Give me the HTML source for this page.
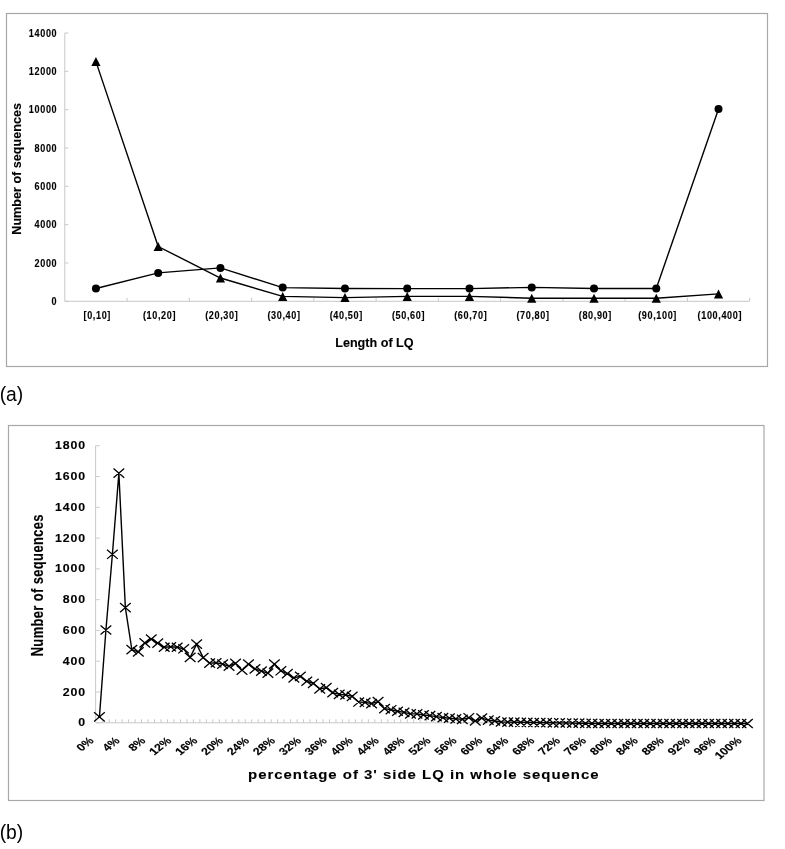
<!DOCTYPE html>
<html><head><meta charset="utf-8"><title>Chart</title>
<style>
html,body{margin:0;padding:0;background:#fff;}
svg{display:block;filter:grayscale(1);}
text{font-family:"Liberation Sans", sans-serif;fill:#000;stroke:#000;stroke-width:0.12px;}
</style></head>
<body>
<svg width="785" height="849" viewBox="0 0 785 849">
<rect width="785" height="849" fill="#fff"/>
<rect x="6.5" y="13.5" width="761" height="353" fill="none" stroke="#a8a8a8" stroke-width="1.2"/>
<line x1="64.8" y1="33" x2="64.8" y2="301.3" stroke="#c8c8c8" stroke-width="1"/>
<line x1="64.8" y1="301.3" x2="749.66" y2="301.3" stroke="#c8c8c8" stroke-width="1"/>
<line x1="64.8" y1="301.30" x2="68.3" y2="301.30" stroke="#c8c8c8" stroke-width="1"/>
<text transform="translate(57.3,305.00) scale(0.88,1)" text-anchor="end" font-size="10.3" font-weight="bold" letter-spacing="0.75">0</text>
<line x1="64.8" y1="262.97" x2="68.3" y2="262.97" stroke="#c8c8c8" stroke-width="1"/>
<text transform="translate(57.3,266.67) scale(0.88,1)" text-anchor="end" font-size="10.3" font-weight="bold" letter-spacing="0.75">2000</text>
<line x1="64.8" y1="224.64" x2="68.3" y2="224.64" stroke="#c8c8c8" stroke-width="1"/>
<text transform="translate(57.3,228.34) scale(0.88,1)" text-anchor="end" font-size="10.3" font-weight="bold" letter-spacing="0.75">4000</text>
<line x1="64.8" y1="186.31" x2="68.3" y2="186.31" stroke="#c8c8c8" stroke-width="1"/>
<text transform="translate(57.3,190.01) scale(0.88,1)" text-anchor="end" font-size="10.3" font-weight="bold" letter-spacing="0.75">6000</text>
<line x1="64.8" y1="147.98" x2="68.3" y2="147.98" stroke="#c8c8c8" stroke-width="1"/>
<text transform="translate(57.3,151.68) scale(0.88,1)" text-anchor="end" font-size="10.3" font-weight="bold" letter-spacing="0.75">8000</text>
<line x1="64.8" y1="109.65" x2="68.3" y2="109.65" stroke="#c8c8c8" stroke-width="1"/>
<text transform="translate(57.3,113.35) scale(0.88,1)" text-anchor="end" font-size="10.3" font-weight="bold" letter-spacing="0.75">10000</text>
<line x1="64.8" y1="71.32" x2="68.3" y2="71.32" stroke="#c8c8c8" stroke-width="1"/>
<text transform="translate(57.3,75.02) scale(0.88,1)" text-anchor="end" font-size="10.3" font-weight="bold" letter-spacing="0.75">12000</text>
<line x1="64.8" y1="32.99" x2="68.3" y2="32.99" stroke="#c8c8c8" stroke-width="1"/>
<text transform="translate(57.3,36.69) scale(0.88,1)" text-anchor="end" font-size="10.3" font-weight="bold" letter-spacing="0.75">14000</text>
<line x1="127.06" y1="297.8" x2="127.06" y2="301.3" stroke="#c8c8c8" stroke-width="1"/>
<line x1="189.32" y1="297.8" x2="189.32" y2="301.3" stroke="#c8c8c8" stroke-width="1"/>
<line x1="251.58" y1="297.8" x2="251.58" y2="301.3" stroke="#c8c8c8" stroke-width="1"/>
<line x1="313.84" y1="297.8" x2="313.84" y2="301.3" stroke="#c8c8c8" stroke-width="1"/>
<line x1="376.10" y1="297.8" x2="376.10" y2="301.3" stroke="#c8c8c8" stroke-width="1"/>
<line x1="438.36" y1="297.8" x2="438.36" y2="301.3" stroke="#c8c8c8" stroke-width="1"/>
<line x1="500.62" y1="297.8" x2="500.62" y2="301.3" stroke="#c8c8c8" stroke-width="1"/>
<line x1="562.88" y1="297.8" x2="562.88" y2="301.3" stroke="#c8c8c8" stroke-width="1"/>
<line x1="625.14" y1="297.8" x2="625.14" y2="301.3" stroke="#c8c8c8" stroke-width="1"/>
<line x1="687.40" y1="297.8" x2="687.40" y2="301.3" stroke="#c8c8c8" stroke-width="1"/>
<line x1="749.66" y1="297.8" x2="749.66" y2="301.3" stroke="#c8c8c8" stroke-width="1"/>
<text transform="translate(97.23,318.5) scale(0.9,1)" text-anchor="middle" font-size="10.1" font-weight="bold" letter-spacing="0.7">[0,10]</text>
<text transform="translate(159.49,318.5) scale(0.9,1)" text-anchor="middle" font-size="10.1" font-weight="bold" letter-spacing="0.7">(10,20]</text>
<text transform="translate(221.75,318.5) scale(0.9,1)" text-anchor="middle" font-size="10.1" font-weight="bold" letter-spacing="0.7">(20,30]</text>
<text transform="translate(284.01,318.5) scale(0.9,1)" text-anchor="middle" font-size="10.1" font-weight="bold" letter-spacing="0.7">(30,40]</text>
<text transform="translate(346.27,318.5) scale(0.9,1)" text-anchor="middle" font-size="10.1" font-weight="bold" letter-spacing="0.7">(40,50]</text>
<text transform="translate(408.53,318.5) scale(0.9,1)" text-anchor="middle" font-size="10.1" font-weight="bold" letter-spacing="0.7">(50,60]</text>
<text transform="translate(470.79,318.5) scale(0.9,1)" text-anchor="middle" font-size="10.1" font-weight="bold" letter-spacing="0.7">(60,70]</text>
<text transform="translate(533.05,318.5) scale(0.9,1)" text-anchor="middle" font-size="10.1" font-weight="bold" letter-spacing="0.7">(70,80]</text>
<text transform="translate(595.31,318.5) scale(0.9,1)" text-anchor="middle" font-size="10.1" font-weight="bold" letter-spacing="0.7">(80,90]</text>
<text transform="translate(657.57,318.5) scale(0.9,1)" text-anchor="middle" font-size="10.1" font-weight="bold" letter-spacing="0.7">(90,100]</text>
<text transform="translate(719.83,318.5) scale(0.9,1)" text-anchor="middle" font-size="10.1" font-weight="bold" letter-spacing="0.7">(100,400]</text>
<text x="374.4" y="346.8" text-anchor="middle" font-size="12.6" font-weight="bold">Length of LQ</text>
<text transform="translate(21,168.9) rotate(-90)" x="0" y="0" text-anchor="middle" font-size="12.6" font-weight="bold">Number of sequences</text>
<polyline points="95.93,288.5 158.19,272.9 220.45,267.9 282.71,287.6 344.97,288.5 407.23,288.6 469.49,288.6 531.75,287.4 594.01,288.5 656.27,288.5 718.53,108.9" fill="none" stroke="#000" stroke-width="1.4"/>
<polyline points="95.93,61.6 158.19,246.5 220.45,278.0 282.71,296.4 344.97,297.6 407.23,296.4 469.49,296.4 531.75,298.2 594.01,298.2 656.27,298.2 718.53,293.9" fill="none" stroke="#000" stroke-width="1.4"/>
<circle cx="95.93" cy="288.5" r="4"/>
<circle cx="158.19" cy="272.9" r="4"/>
<circle cx="220.45" cy="267.9" r="4"/>
<circle cx="282.71" cy="287.6" r="4"/>
<circle cx="344.97" cy="288.5" r="4"/>
<circle cx="407.23" cy="288.6" r="4"/>
<circle cx="469.49" cy="288.6" r="4"/>
<circle cx="531.75" cy="287.4" r="4"/>
<circle cx="594.01" cy="288.5" r="4"/>
<circle cx="656.27" cy="288.5" r="4"/>
<circle cx="718.53" cy="108.9" r="4"/>
<path d="M95.93,57.10L100.53,66.10L91.33,66.10Z"/>
<path d="M158.19,242.00L162.79,251.00L153.59,251.00Z"/>
<path d="M220.45,273.50L225.05,282.50L215.85,282.50Z"/>
<path d="M282.71,291.90L287.31,300.90L278.11,300.90Z"/>
<path d="M344.97,293.10L349.57,302.10L340.37,302.10Z"/>
<path d="M407.23,291.90L411.83,300.90L402.63,300.90Z"/>
<path d="M469.49,291.90L474.09,300.90L464.89,300.90Z"/>
<path d="M531.75,293.70L536.35,302.70L527.15,302.70Z"/>
<path d="M594.01,293.70L598.61,302.70L589.41,302.70Z"/>
<path d="M656.27,293.70L660.87,302.70L651.67,302.70Z"/>
<path d="M718.53,289.40L723.13,298.40L713.93,298.40Z"/>
<text x="-0.3" y="400.6" font-size="19.3" style="stroke:none">(a)</text>
<text x="-0.3" y="838.9" font-size="19.3" style="stroke:none">(b)</text>
<rect x="8.5" y="425.5" width="755.5" height="375" fill="none" stroke="#a8a8a8" stroke-width="1.2"/>
<line x1="95.6" y1="445.6" x2="95.6" y2="722.8" stroke="#c8c8c8" stroke-width="1"/>
<line x1="96.2" y1="722.8" x2="750.68" y2="722.8" stroke="#c8c8c8" stroke-width="1"/>
<line x1="96.2" y1="722.80" x2="99.7" y2="722.80" stroke="#c8c8c8" stroke-width="1"/>
<text transform="translate(86.0,726.30) scale(1.1,1)" text-anchor="end" font-size="11.2" font-weight="bold" letter-spacing="0.8">0</text>
<line x1="96.2" y1="692.02" x2="99.7" y2="692.02" stroke="#c8c8c8" stroke-width="1"/>
<text transform="translate(86.0,695.52) scale(1.1,1)" text-anchor="end" font-size="11.2" font-weight="bold" letter-spacing="0.8">200</text>
<line x1="96.2" y1="661.24" x2="99.7" y2="661.24" stroke="#c8c8c8" stroke-width="1"/>
<text transform="translate(86.0,664.74) scale(1.1,1)" text-anchor="end" font-size="11.2" font-weight="bold" letter-spacing="0.8">400</text>
<line x1="96.2" y1="630.46" x2="99.7" y2="630.46" stroke="#c8c8c8" stroke-width="1"/>
<text transform="translate(86.0,633.96) scale(1.1,1)" text-anchor="end" font-size="11.2" font-weight="bold" letter-spacing="0.8">600</text>
<line x1="96.2" y1="599.68" x2="99.7" y2="599.68" stroke="#c8c8c8" stroke-width="1"/>
<text transform="translate(86.0,603.18) scale(1.1,1)" text-anchor="end" font-size="11.2" font-weight="bold" letter-spacing="0.8">800</text>
<line x1="96.2" y1="568.90" x2="99.7" y2="568.90" stroke="#c8c8c8" stroke-width="1"/>
<text transform="translate(86.0,572.40) scale(1.1,1)" text-anchor="end" font-size="11.2" font-weight="bold" letter-spacing="0.8">1000</text>
<line x1="96.2" y1="538.12" x2="99.7" y2="538.12" stroke="#c8c8c8" stroke-width="1"/>
<text transform="translate(86.0,541.62) scale(1.1,1)" text-anchor="end" font-size="11.2" font-weight="bold" letter-spacing="0.8">1200</text>
<line x1="96.2" y1="507.34" x2="99.7" y2="507.34" stroke="#c8c8c8" stroke-width="1"/>
<text transform="translate(86.0,510.84) scale(1.1,1)" text-anchor="end" font-size="11.2" font-weight="bold" letter-spacing="0.8">1400</text>
<line x1="96.2" y1="476.56" x2="99.7" y2="476.56" stroke="#c8c8c8" stroke-width="1"/>
<text transform="translate(86.0,480.06) scale(1.1,1)" text-anchor="end" font-size="11.2" font-weight="bold" letter-spacing="0.8">1600</text>
<line x1="96.2" y1="445.78" x2="99.7" y2="445.78" stroke="#c8c8c8" stroke-width="1"/>
<text transform="translate(86.0,449.28) scale(1.1,1)" text-anchor="end" font-size="11.2" font-weight="bold" letter-spacing="0.8">1800</text>
<line x1="102.68" y1="719.3" x2="102.68" y2="722.8" stroke="#c8c8c8" stroke-width="1"/>
<line x1="109.16" y1="719.3" x2="109.16" y2="722.8" stroke="#c8c8c8" stroke-width="1"/>
<line x1="115.64" y1="719.3" x2="115.64" y2="722.8" stroke="#c8c8c8" stroke-width="1"/>
<line x1="122.12" y1="719.3" x2="122.12" y2="722.8" stroke="#c8c8c8" stroke-width="1"/>
<line x1="128.60" y1="719.3" x2="128.60" y2="722.8" stroke="#c8c8c8" stroke-width="1"/>
<line x1="135.08" y1="719.3" x2="135.08" y2="722.8" stroke="#c8c8c8" stroke-width="1"/>
<line x1="141.56" y1="719.3" x2="141.56" y2="722.8" stroke="#c8c8c8" stroke-width="1"/>
<line x1="148.04" y1="719.3" x2="148.04" y2="722.8" stroke="#c8c8c8" stroke-width="1"/>
<line x1="154.52" y1="719.3" x2="154.52" y2="722.8" stroke="#c8c8c8" stroke-width="1"/>
<line x1="161.00" y1="719.3" x2="161.00" y2="722.8" stroke="#c8c8c8" stroke-width="1"/>
<line x1="167.48" y1="719.3" x2="167.48" y2="722.8" stroke="#c8c8c8" stroke-width="1"/>
<line x1="173.96" y1="719.3" x2="173.96" y2="722.8" stroke="#c8c8c8" stroke-width="1"/>
<line x1="180.44" y1="719.3" x2="180.44" y2="722.8" stroke="#c8c8c8" stroke-width="1"/>
<line x1="186.92" y1="719.3" x2="186.92" y2="722.8" stroke="#c8c8c8" stroke-width="1"/>
<line x1="193.40" y1="719.3" x2="193.40" y2="722.8" stroke="#c8c8c8" stroke-width="1"/>
<line x1="199.88" y1="719.3" x2="199.88" y2="722.8" stroke="#c8c8c8" stroke-width="1"/>
<line x1="206.36" y1="719.3" x2="206.36" y2="722.8" stroke="#c8c8c8" stroke-width="1"/>
<line x1="212.84" y1="719.3" x2="212.84" y2="722.8" stroke="#c8c8c8" stroke-width="1"/>
<line x1="219.32" y1="719.3" x2="219.32" y2="722.8" stroke="#c8c8c8" stroke-width="1"/>
<line x1="225.80" y1="719.3" x2="225.80" y2="722.8" stroke="#c8c8c8" stroke-width="1"/>
<line x1="232.28" y1="719.3" x2="232.28" y2="722.8" stroke="#c8c8c8" stroke-width="1"/>
<line x1="238.76" y1="719.3" x2="238.76" y2="722.8" stroke="#c8c8c8" stroke-width="1"/>
<line x1="245.24" y1="719.3" x2="245.24" y2="722.8" stroke="#c8c8c8" stroke-width="1"/>
<line x1="251.72" y1="719.3" x2="251.72" y2="722.8" stroke="#c8c8c8" stroke-width="1"/>
<line x1="258.20" y1="719.3" x2="258.20" y2="722.8" stroke="#c8c8c8" stroke-width="1"/>
<line x1="264.68" y1="719.3" x2="264.68" y2="722.8" stroke="#c8c8c8" stroke-width="1"/>
<line x1="271.16" y1="719.3" x2="271.16" y2="722.8" stroke="#c8c8c8" stroke-width="1"/>
<line x1="277.64" y1="719.3" x2="277.64" y2="722.8" stroke="#c8c8c8" stroke-width="1"/>
<line x1="284.12" y1="719.3" x2="284.12" y2="722.8" stroke="#c8c8c8" stroke-width="1"/>
<line x1="290.60" y1="719.3" x2="290.60" y2="722.8" stroke="#c8c8c8" stroke-width="1"/>
<line x1="297.08" y1="719.3" x2="297.08" y2="722.8" stroke="#c8c8c8" stroke-width="1"/>
<line x1="303.56" y1="719.3" x2="303.56" y2="722.8" stroke="#c8c8c8" stroke-width="1"/>
<line x1="310.04" y1="719.3" x2="310.04" y2="722.8" stroke="#c8c8c8" stroke-width="1"/>
<line x1="316.52" y1="719.3" x2="316.52" y2="722.8" stroke="#c8c8c8" stroke-width="1"/>
<line x1="323.00" y1="719.3" x2="323.00" y2="722.8" stroke="#c8c8c8" stroke-width="1"/>
<line x1="329.48" y1="719.3" x2="329.48" y2="722.8" stroke="#c8c8c8" stroke-width="1"/>
<line x1="335.96" y1="719.3" x2="335.96" y2="722.8" stroke="#c8c8c8" stroke-width="1"/>
<line x1="342.44" y1="719.3" x2="342.44" y2="722.8" stroke="#c8c8c8" stroke-width="1"/>
<line x1="348.92" y1="719.3" x2="348.92" y2="722.8" stroke="#c8c8c8" stroke-width="1"/>
<line x1="355.40" y1="719.3" x2="355.40" y2="722.8" stroke="#c8c8c8" stroke-width="1"/>
<line x1="361.88" y1="719.3" x2="361.88" y2="722.8" stroke="#c8c8c8" stroke-width="1"/>
<line x1="368.36" y1="719.3" x2="368.36" y2="722.8" stroke="#c8c8c8" stroke-width="1"/>
<line x1="374.84" y1="719.3" x2="374.84" y2="722.8" stroke="#c8c8c8" stroke-width="1"/>
<line x1="381.32" y1="719.3" x2="381.32" y2="722.8" stroke="#c8c8c8" stroke-width="1"/>
<line x1="387.80" y1="719.3" x2="387.80" y2="722.8" stroke="#c8c8c8" stroke-width="1"/>
<line x1="394.28" y1="719.3" x2="394.28" y2="722.8" stroke="#c8c8c8" stroke-width="1"/>
<line x1="400.76" y1="719.3" x2="400.76" y2="722.8" stroke="#c8c8c8" stroke-width="1"/>
<line x1="407.24" y1="719.3" x2="407.24" y2="722.8" stroke="#c8c8c8" stroke-width="1"/>
<line x1="413.72" y1="719.3" x2="413.72" y2="722.8" stroke="#c8c8c8" stroke-width="1"/>
<line x1="420.20" y1="719.3" x2="420.20" y2="722.8" stroke="#c8c8c8" stroke-width="1"/>
<line x1="426.68" y1="719.3" x2="426.68" y2="722.8" stroke="#c8c8c8" stroke-width="1"/>
<line x1="433.16" y1="719.3" x2="433.16" y2="722.8" stroke="#c8c8c8" stroke-width="1"/>
<line x1="439.64" y1="719.3" x2="439.64" y2="722.8" stroke="#c8c8c8" stroke-width="1"/>
<line x1="446.12" y1="719.3" x2="446.12" y2="722.8" stroke="#c8c8c8" stroke-width="1"/>
<line x1="452.60" y1="719.3" x2="452.60" y2="722.8" stroke="#c8c8c8" stroke-width="1"/>
<line x1="459.08" y1="719.3" x2="459.08" y2="722.8" stroke="#c8c8c8" stroke-width="1"/>
<line x1="465.56" y1="719.3" x2="465.56" y2="722.8" stroke="#c8c8c8" stroke-width="1"/>
<line x1="472.04" y1="719.3" x2="472.04" y2="722.8" stroke="#c8c8c8" stroke-width="1"/>
<line x1="478.52" y1="719.3" x2="478.52" y2="722.8" stroke="#c8c8c8" stroke-width="1"/>
<line x1="485.00" y1="719.3" x2="485.00" y2="722.8" stroke="#c8c8c8" stroke-width="1"/>
<line x1="491.48" y1="719.3" x2="491.48" y2="722.8" stroke="#c8c8c8" stroke-width="1"/>
<line x1="497.96" y1="719.3" x2="497.96" y2="722.8" stroke="#c8c8c8" stroke-width="1"/>
<line x1="504.44" y1="719.3" x2="504.44" y2="722.8" stroke="#c8c8c8" stroke-width="1"/>
<line x1="510.92" y1="719.3" x2="510.92" y2="722.8" stroke="#c8c8c8" stroke-width="1"/>
<line x1="517.40" y1="719.3" x2="517.40" y2="722.8" stroke="#c8c8c8" stroke-width="1"/>
<line x1="523.88" y1="719.3" x2="523.88" y2="722.8" stroke="#c8c8c8" stroke-width="1"/>
<line x1="530.36" y1="719.3" x2="530.36" y2="722.8" stroke="#c8c8c8" stroke-width="1"/>
<line x1="536.84" y1="719.3" x2="536.84" y2="722.8" stroke="#c8c8c8" stroke-width="1"/>
<line x1="543.32" y1="719.3" x2="543.32" y2="722.8" stroke="#c8c8c8" stroke-width="1"/>
<line x1="549.80" y1="719.3" x2="549.80" y2="722.8" stroke="#c8c8c8" stroke-width="1"/>
<line x1="556.28" y1="719.3" x2="556.28" y2="722.8" stroke="#c8c8c8" stroke-width="1"/>
<line x1="562.76" y1="719.3" x2="562.76" y2="722.8" stroke="#c8c8c8" stroke-width="1"/>
<line x1="569.24" y1="719.3" x2="569.24" y2="722.8" stroke="#c8c8c8" stroke-width="1"/>
<line x1="575.72" y1="719.3" x2="575.72" y2="722.8" stroke="#c8c8c8" stroke-width="1"/>
<line x1="582.20" y1="719.3" x2="582.20" y2="722.8" stroke="#c8c8c8" stroke-width="1"/>
<line x1="588.68" y1="719.3" x2="588.68" y2="722.8" stroke="#c8c8c8" stroke-width="1"/>
<line x1="595.16" y1="719.3" x2="595.16" y2="722.8" stroke="#c8c8c8" stroke-width="1"/>
<line x1="601.64" y1="719.3" x2="601.64" y2="722.8" stroke="#c8c8c8" stroke-width="1"/>
<line x1="608.12" y1="719.3" x2="608.12" y2="722.8" stroke="#c8c8c8" stroke-width="1"/>
<line x1="614.60" y1="719.3" x2="614.60" y2="722.8" stroke="#c8c8c8" stroke-width="1"/>
<line x1="621.08" y1="719.3" x2="621.08" y2="722.8" stroke="#c8c8c8" stroke-width="1"/>
<line x1="627.56" y1="719.3" x2="627.56" y2="722.8" stroke="#c8c8c8" stroke-width="1"/>
<line x1="634.04" y1="719.3" x2="634.04" y2="722.8" stroke="#c8c8c8" stroke-width="1"/>
<line x1="640.52" y1="719.3" x2="640.52" y2="722.8" stroke="#c8c8c8" stroke-width="1"/>
<line x1="647.00" y1="719.3" x2="647.00" y2="722.8" stroke="#c8c8c8" stroke-width="1"/>
<line x1="653.48" y1="719.3" x2="653.48" y2="722.8" stroke="#c8c8c8" stroke-width="1"/>
<line x1="659.96" y1="719.3" x2="659.96" y2="722.8" stroke="#c8c8c8" stroke-width="1"/>
<line x1="666.44" y1="719.3" x2="666.44" y2="722.8" stroke="#c8c8c8" stroke-width="1"/>
<line x1="672.92" y1="719.3" x2="672.92" y2="722.8" stroke="#c8c8c8" stroke-width="1"/>
<line x1="679.40" y1="719.3" x2="679.40" y2="722.8" stroke="#c8c8c8" stroke-width="1"/>
<line x1="685.88" y1="719.3" x2="685.88" y2="722.8" stroke="#c8c8c8" stroke-width="1"/>
<line x1="692.36" y1="719.3" x2="692.36" y2="722.8" stroke="#c8c8c8" stroke-width="1"/>
<line x1="698.84" y1="719.3" x2="698.84" y2="722.8" stroke="#c8c8c8" stroke-width="1"/>
<line x1="705.32" y1="719.3" x2="705.32" y2="722.8" stroke="#c8c8c8" stroke-width="1"/>
<line x1="711.80" y1="719.3" x2="711.80" y2="722.8" stroke="#c8c8c8" stroke-width="1"/>
<line x1="718.28" y1="719.3" x2="718.28" y2="722.8" stroke="#c8c8c8" stroke-width="1"/>
<line x1="724.76" y1="719.3" x2="724.76" y2="722.8" stroke="#c8c8c8" stroke-width="1"/>
<line x1="731.24" y1="719.3" x2="731.24" y2="722.8" stroke="#c8c8c8" stroke-width="1"/>
<line x1="737.72" y1="719.3" x2="737.72" y2="722.8" stroke="#c8c8c8" stroke-width="1"/>
<line x1="744.20" y1="719.3" x2="744.20" y2="722.8" stroke="#c8c8c8" stroke-width="1"/>
<line x1="750.68" y1="719.3" x2="750.68" y2="722.8" stroke="#c8c8c8" stroke-width="1"/>
<text transform="translate(88.24,736.3) scale(1.24,1) rotate(-45)" text-anchor="end" font-size="10.2" font-weight="bold" dominant-baseline="hanging">0%</text>
<text transform="translate(114.16,736.3) scale(1.24,1) rotate(-45)" text-anchor="end" font-size="10.2" font-weight="bold" dominant-baseline="hanging">4%</text>
<text transform="translate(140.08,736.3) scale(1.24,1) rotate(-45)" text-anchor="end" font-size="10.2" font-weight="bold" dominant-baseline="hanging">8%</text>
<text transform="translate(166.00,736.3) scale(1.24,1) rotate(-45)" text-anchor="end" font-size="10.2" font-weight="bold" dominant-baseline="hanging">12%</text>
<text transform="translate(191.92,736.3) scale(1.24,1) rotate(-45)" text-anchor="end" font-size="10.2" font-weight="bold" dominant-baseline="hanging">16%</text>
<text transform="translate(217.84,736.3) scale(1.24,1) rotate(-45)" text-anchor="end" font-size="10.2" font-weight="bold" dominant-baseline="hanging">20%</text>
<text transform="translate(243.76,736.3) scale(1.24,1) rotate(-45)" text-anchor="end" font-size="10.2" font-weight="bold" dominant-baseline="hanging">24%</text>
<text transform="translate(269.68,736.3) scale(1.24,1) rotate(-45)" text-anchor="end" font-size="10.2" font-weight="bold" dominant-baseline="hanging">28%</text>
<text transform="translate(295.60,736.3) scale(1.24,1) rotate(-45)" text-anchor="end" font-size="10.2" font-weight="bold" dominant-baseline="hanging">32%</text>
<text transform="translate(321.52,736.3) scale(1.24,1) rotate(-45)" text-anchor="end" font-size="10.2" font-weight="bold" dominant-baseline="hanging">36%</text>
<text transform="translate(347.44,736.3) scale(1.24,1) rotate(-45)" text-anchor="end" font-size="10.2" font-weight="bold" dominant-baseline="hanging">40%</text>
<text transform="translate(373.36,736.3) scale(1.24,1) rotate(-45)" text-anchor="end" font-size="10.2" font-weight="bold" dominant-baseline="hanging">44%</text>
<text transform="translate(399.28,736.3) scale(1.24,1) rotate(-45)" text-anchor="end" font-size="10.2" font-weight="bold" dominant-baseline="hanging">48%</text>
<text transform="translate(425.20,736.3) scale(1.24,1) rotate(-45)" text-anchor="end" font-size="10.2" font-weight="bold" dominant-baseline="hanging">52%</text>
<text transform="translate(451.12,736.3) scale(1.24,1) rotate(-45)" text-anchor="end" font-size="10.2" font-weight="bold" dominant-baseline="hanging">56%</text>
<text transform="translate(477.04,736.3) scale(1.24,1) rotate(-45)" text-anchor="end" font-size="10.2" font-weight="bold" dominant-baseline="hanging">60%</text>
<text transform="translate(502.96,736.3) scale(1.24,1) rotate(-45)" text-anchor="end" font-size="10.2" font-weight="bold" dominant-baseline="hanging">64%</text>
<text transform="translate(528.88,736.3) scale(1.24,1) rotate(-45)" text-anchor="end" font-size="10.2" font-weight="bold" dominant-baseline="hanging">68%</text>
<text transform="translate(554.80,736.3) scale(1.24,1) rotate(-45)" text-anchor="end" font-size="10.2" font-weight="bold" dominant-baseline="hanging">72%</text>
<text transform="translate(580.72,736.3) scale(1.24,1) rotate(-45)" text-anchor="end" font-size="10.2" font-weight="bold" dominant-baseline="hanging">76%</text>
<text transform="translate(606.64,736.3) scale(1.24,1) rotate(-45)" text-anchor="end" font-size="10.2" font-weight="bold" dominant-baseline="hanging">80%</text>
<text transform="translate(632.56,736.3) scale(1.24,1) rotate(-45)" text-anchor="end" font-size="10.2" font-weight="bold" dominant-baseline="hanging">84%</text>
<text transform="translate(658.48,736.3) scale(1.24,1) rotate(-45)" text-anchor="end" font-size="10.2" font-weight="bold" dominant-baseline="hanging">88%</text>
<text transform="translate(684.40,736.3) scale(1.24,1) rotate(-45)" text-anchor="end" font-size="10.2" font-weight="bold" dominant-baseline="hanging">92%</text>
<text transform="translate(710.32,736.3) scale(1.24,1) rotate(-45)" text-anchor="end" font-size="10.2" font-weight="bold" dominant-baseline="hanging">96%</text>
<text transform="translate(736.24,736.3) scale(1.24,1) rotate(-45)" text-anchor="end" font-size="10.2" font-weight="bold" dominant-baseline="hanging">100%</text>
<text transform="translate(423.8,779.0) scale(1.1,1)" text-anchor="middle" font-size="13.6" font-weight="bold" letter-spacing="0.9">percentage of 3' side LQ in whole sequence</text>
<text transform="translate(42.7,585.2) scale(1.27,1) rotate(-90)" text-anchor="middle" font-size="12.9" font-weight="bold" letter-spacing="0.4">Number of sequences</text>
<polyline points="99.44,716.80 105.92,630.00 112.40,554.28 118.88,473.17 125.36,607.68 131.84,649.54 138.32,651.85 144.80,642.93 151.28,639.08 157.76,643.08 164.24,647.24 170.72,646.77 177.20,647.24 183.68,648.77 190.16,657.39 196.64,644.16 203.12,657.55 209.60,663.09 216.08,662.78 222.56,664.16 229.04,666.16 235.52,663.39 242.00,670.17 248.48,664.16 254.96,668.93 261.44,671.09 267.92,673.09 274.40,664.16 280.88,670.78 287.36,673.55 293.84,677.86 300.32,676.32 306.80,681.25 313.28,683.40 319.76,688.79 326.24,687.71 332.72,692.64 339.20,694.33 345.68,694.94 352.16,696.33 358.64,702.02 365.12,702.33 371.60,703.56 378.08,701.56 384.56,708.64 391.04,709.72 397.52,711.26 404.00,712.33 410.48,713.87 416.96,713.87 423.44,714.95 429.92,715.57 436.40,716.64 442.88,717.57 449.36,718.18 455.84,718.80 462.32,719.41 468.80,717.72 475.28,720.80 481.76,718.18 488.24,720.18 494.72,720.95 501.20,722.00 507.68,722.10 514.16,722.20 520.64,722.30 527.12,722.40 533.60,722.50 540.08,722.60 546.56,722.70 553.04,722.80 559.52,722.90 566.00,723.00 572.48,723.10 578.96,723.20 585.44,723.30 591.92,723.40 598.40,723.50 604.88,723.50 611.36,723.50 617.84,723.50 624.32,723.50 630.80,723.50 637.28,723.50 643.76,723.50 650.24,723.50 656.72,723.50 663.20,723.50 669.68,723.50 676.16,723.50 682.64,723.50 689.12,723.50 695.60,723.50 702.08,723.50 708.56,723.50 715.04,723.50 721.52,723.50 728.00,723.50 734.48,723.50 740.96,723.50 747.44,723.50" fill="none" stroke="#000" stroke-width="1.4"/>
<path d="M94.09,712.20L104.79,721.40M94.09,721.40L104.79,712.20M100.57,625.40L111.27,634.60M100.57,634.60L111.27,625.40M107.05,549.68L117.75,558.88M107.05,558.88L117.75,549.68M113.53,468.57L124.23,477.77M113.53,477.77L124.23,468.57M120.01,603.08L130.71,612.28M120.01,612.28L130.71,603.08M126.49,644.94L137.19,654.14M126.49,654.14L137.19,644.94M132.97,647.25L143.67,656.45M132.97,656.45L143.67,647.25M139.45,638.33L150.15,647.53M139.45,647.53L150.15,638.33M145.93,634.48L156.63,643.68M145.93,643.68L156.63,634.48M152.41,638.48L163.11,647.68M152.41,647.68L163.11,638.48M158.89,642.64L169.59,651.84M158.89,651.84L169.59,642.64M165.37,642.17L176.07,651.37M165.37,651.37L176.07,642.17M171.85,642.64L182.55,651.84M171.85,651.84L182.55,642.64M178.33,644.17L189.03,653.37M178.33,653.37L189.03,644.17M184.81,652.79L195.51,661.99M184.81,661.99L195.51,652.79M191.29,639.56L201.99,648.76M191.29,648.76L201.99,639.56M197.77,652.95L208.47,662.15M197.77,662.15L208.47,652.95M204.25,658.49L214.95,667.69M204.25,667.69L214.95,658.49M210.73,658.18L221.43,667.38M210.73,667.38L221.43,658.18M217.21,659.56L227.91,668.76M217.21,668.76L227.91,659.56M223.69,661.56L234.39,670.76M223.69,670.76L234.39,661.56M230.17,658.79L240.87,667.99M230.17,667.99L240.87,658.79M236.65,665.57L247.35,674.77M236.65,674.77L247.35,665.57M243.13,659.56L253.83,668.76M243.13,668.76L253.83,659.56M249.61,664.33L260.31,673.53M249.61,673.53L260.31,664.33M256.09,666.49L266.79,675.69M256.09,675.69L266.79,666.49M262.57,668.49L273.27,677.69M262.57,677.69L273.27,668.49M269.05,659.56L279.75,668.76M269.05,668.76L279.75,659.56M275.53,666.18L286.23,675.38M275.53,675.38L286.23,666.18M282.01,668.95L292.71,678.15M282.01,678.15L292.71,668.95M288.49,673.26L299.19,682.46M288.49,682.46L299.19,673.26M294.97,671.72L305.67,680.92M294.97,680.92L305.67,671.72M301.45,676.65L312.15,685.85M301.45,685.85L312.15,676.65M307.93,678.80L318.63,688.00M307.93,688.00L318.63,678.80M314.41,684.19L325.11,693.39M314.41,693.39L325.11,684.19M320.89,683.11L331.59,692.31M320.89,692.31L331.59,683.11M327.37,688.04L338.07,697.24M327.37,697.24L338.07,688.04M333.85,689.73L344.55,698.93M333.85,698.93L344.55,689.73M340.33,690.34L351.03,699.54M340.33,699.54L351.03,690.34M346.81,691.73L357.51,700.93M346.81,700.93L357.51,691.73M353.29,697.42L363.99,706.62M353.29,706.62L363.99,697.42M359.77,697.73L370.47,706.93M359.77,706.93L370.47,697.73M366.25,698.96L376.95,708.16M366.25,708.16L376.95,698.96M372.73,696.96L383.43,706.16M372.73,706.16L383.43,696.96M379.21,704.04L389.91,713.24M379.21,713.24L389.91,704.04M385.69,705.12L396.39,714.32M385.69,714.32L396.39,705.12M392.17,706.66L402.87,715.86M392.17,715.86L402.87,706.66M398.65,707.73L409.35,716.93M398.65,716.93L409.35,707.73M405.13,709.27L415.83,718.47M405.13,718.47L415.83,709.27M411.61,709.27L422.31,718.47M411.61,718.47L422.31,709.27M418.09,710.35L428.79,719.55M418.09,719.55L428.79,710.35M424.57,710.97L435.27,720.17M424.57,720.17L435.27,710.97M431.05,712.04L441.75,721.24M431.05,721.24L441.75,712.04M437.53,712.97L448.23,722.17M437.53,722.17L448.23,712.97M444.01,713.58L454.71,722.78M444.01,722.78L454.71,713.58M450.49,714.20L461.19,723.40M450.49,723.40L461.19,714.20M456.97,714.81L467.67,724.01M456.97,724.01L467.67,714.81M463.45,713.12L474.15,722.32M463.45,722.32L474.15,713.12M469.93,716.20L480.63,725.40M469.93,725.40L480.63,716.20M476.41,713.58L487.11,722.78M476.41,722.78L487.11,713.58M482.89,715.58L493.59,724.78M482.89,724.78L493.59,715.58M489.37,716.35L500.07,725.55M489.37,725.55L500.07,716.35M495.85,717.40L506.55,726.60M495.85,726.60L506.55,717.40M502.33,717.50L513.03,726.70M502.33,726.70L513.03,717.50M508.81,717.60L519.51,726.80M508.81,726.80L519.51,717.60M515.29,717.70L525.99,726.90M515.29,726.90L525.99,717.70M521.77,717.80L532.47,727.00M521.77,727.00L532.47,717.80M528.25,717.90L538.95,727.10M528.25,727.10L538.95,717.90M534.73,718.00L545.43,727.20M534.73,727.20L545.43,718.00M541.21,718.10L551.91,727.30M541.21,727.30L551.91,718.10M547.69,718.20L558.39,727.40M547.69,727.40L558.39,718.20M554.17,718.30L564.87,727.50M554.17,727.50L564.87,718.30M560.65,718.40L571.35,727.60M560.65,727.60L571.35,718.40M567.13,718.50L577.83,727.70M567.13,727.70L577.83,718.50M573.61,718.60L584.31,727.80M573.61,727.80L584.31,718.60M580.09,718.70L590.79,727.90M580.09,727.90L590.79,718.70M586.57,718.80L597.27,728.00M586.57,728.00L597.27,718.80M593.05,718.90L603.75,728.10M593.05,728.10L603.75,718.90M599.53,718.90L610.23,728.10M599.53,728.10L610.23,718.90M606.01,718.90L616.71,728.10M606.01,728.10L616.71,718.90M612.49,718.90L623.19,728.10M612.49,728.10L623.19,718.90M618.97,718.90L629.67,728.10M618.97,728.10L629.67,718.90M625.45,718.90L636.15,728.10M625.45,728.10L636.15,718.90M631.93,718.90L642.63,728.10M631.93,728.10L642.63,718.90M638.41,718.90L649.11,728.10M638.41,728.10L649.11,718.90M644.89,718.90L655.59,728.10M644.89,728.10L655.59,718.90M651.37,718.90L662.07,728.10M651.37,728.10L662.07,718.90M657.85,718.90L668.55,728.10M657.85,728.10L668.55,718.90M664.33,718.90L675.03,728.10M664.33,728.10L675.03,718.90M670.81,718.90L681.51,728.10M670.81,728.10L681.51,718.90M677.29,718.90L687.99,728.10M677.29,728.10L687.99,718.90M683.77,718.90L694.47,728.10M683.77,728.10L694.47,718.90M690.25,718.90L700.95,728.10M690.25,728.10L700.95,718.90M696.73,718.90L707.43,728.10M696.73,728.10L707.43,718.90M703.21,718.90L713.91,728.10M703.21,728.10L713.91,718.90M709.69,718.90L720.39,728.10M709.69,728.10L720.39,718.90M716.17,718.90L726.87,728.10M716.17,728.10L726.87,718.90M722.65,718.90L733.35,728.10M722.65,728.10L733.35,718.90M729.13,718.90L739.83,728.10M729.13,728.10L739.83,718.90M735.61,718.90L746.31,728.10M735.61,728.10L746.31,718.90M742.09,718.90L752.79,728.10M742.09,728.10L752.79,718.90" stroke="#000" stroke-width="1.3" fill="none"/>
</svg>
</body></html>
